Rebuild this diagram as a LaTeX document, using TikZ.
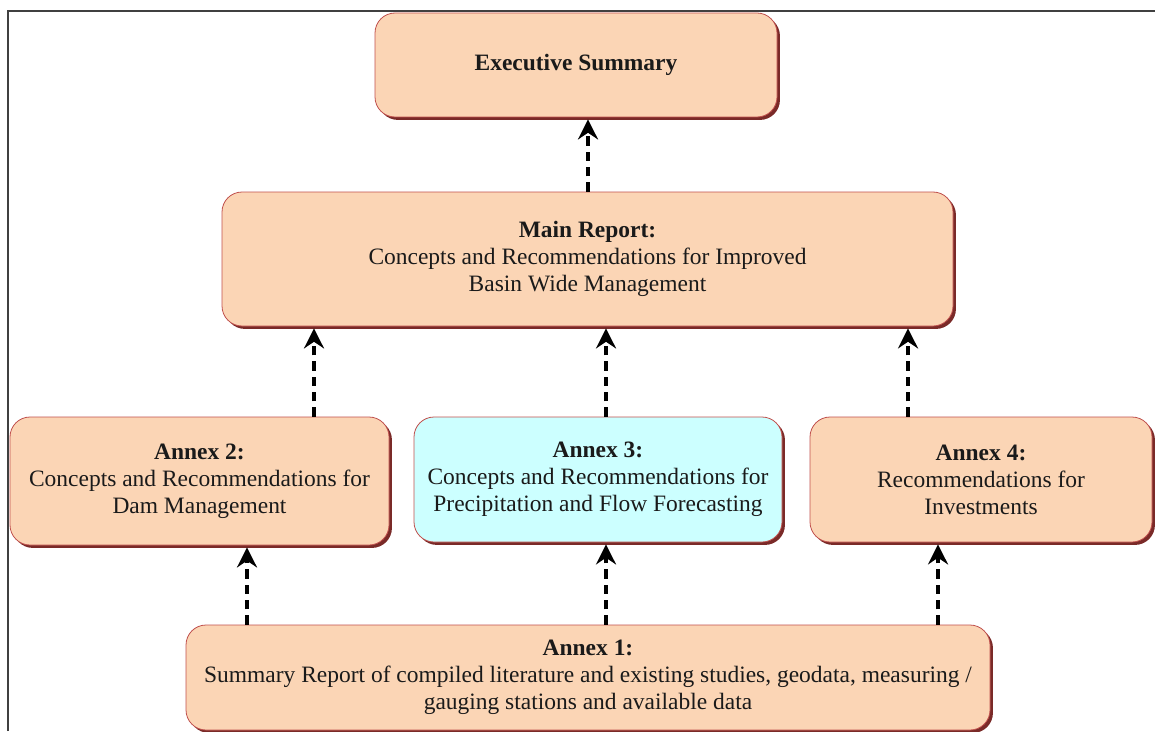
\documentclass[tikz,border=0pt]{standalone}
\usepackage{fontspec}
\setmainfont{Liberation Serif}
\usetikzlibrary{arrows.meta,shadows}
\definecolor{peach}{HTML}{FBD5B5}
\definecolor{cyanbox}{HTML}{CCFFFF}
\definecolor{boxedge}{HTML}{C0504D}
\definecolor{shadowred}{HTML}{7A2A28}
\definecolor{txt}{HTML}{1A1A1A}
\tikzset{
  box/.style={draw=boxedge, line width=0.6pt, fill=peach, rounded corners=15pt,
    align=center, text=txt, inner sep=0pt,
    font=\fontsize{17.6}{20.25}\selectfont,
    drop shadow={shadow xshift=2.2pt, shadow yshift=-2.2pt, fill=shadowred, opacity=1}},
  conn/.style={line width=2.6pt, dash pattern=on 7pt off 4.5pt,
    -{Stealth[length=15pt,width=15pt,inset=5pt]}, shorten >=1.5pt},
  frameline/.style={line width=1.3pt, draw=black!75}
}
\begin{document}
\begin{tikzpicture}[x=0.75pt,y=-0.75pt]
\useasboundingbox (0,0) rectangle (1155,731);
\draw[frameline] (8,731) -- (8,11) -- (1155,11);

\node[box, minimum width=301.5pt, minimum height=78pt] (exec) at (576,65)
  {\textbf{Executive Summary}};
\node[box, minimum width=548.25pt, minimum height=100.5pt] (main) at (587.5,259)
  {\textbf{Main Report:}\\Concepts and Recommendations for Improved\\Basin Wide Management};
\node[box, minimum width=284.25pt, minimum height=96pt] (a2) at (199.5,481)
  {\textbf{Annex 2:}\\Concepts and Recommendations for\\Dam Management};
\node[box, fill=cyanbox, minimum width=276pt, minimum height=93.75pt] (a3) at (598,479.5)
  {\textbf{Annex 3:}\\Concepts and Recommendations for\\Precipitation and Flow Forecasting};
\node[box, minimum width=256.5pt, minimum height=93.75pt] (a4) at (981,479.5)
  {\textbf{Annex 4:}\\Recommendations for\\Investments};
\node[box, minimum width=603pt, minimum height=78.75pt] (a1) at (588,677.5)
  {\textbf{Annex 1:}\\Summary Report of compiled literature and existing studies, geodata, measuring /\\gauging stations and available data};

\coordinate (c588) at (588,0);
\coordinate (c314) at (314,0);
\coordinate (c606) at (606,0);
\coordinate (c908) at (908,0);
\coordinate (c247) at (247,0);
\coordinate (c938) at (938,0);

\draw[conn] (main.north -| c588) -- (exec.south -| c588);
\draw[conn] (a2.north -| c314) -- (main.south -| c314);
\draw[conn] (a3.north -| c606) -- (main.south -| c606);
\draw[conn] (a4.north -| c908) -- (main.south -| c908);
\draw[conn] (a1.north -| c247) -- (a2.south -| c247);
\draw[conn] (a1.north -| c606) -- (a3.south -| c606);
\draw[conn] (a1.north -| c938) -- (a4.south -| c938);
\end{tikzpicture}
\end{document}
